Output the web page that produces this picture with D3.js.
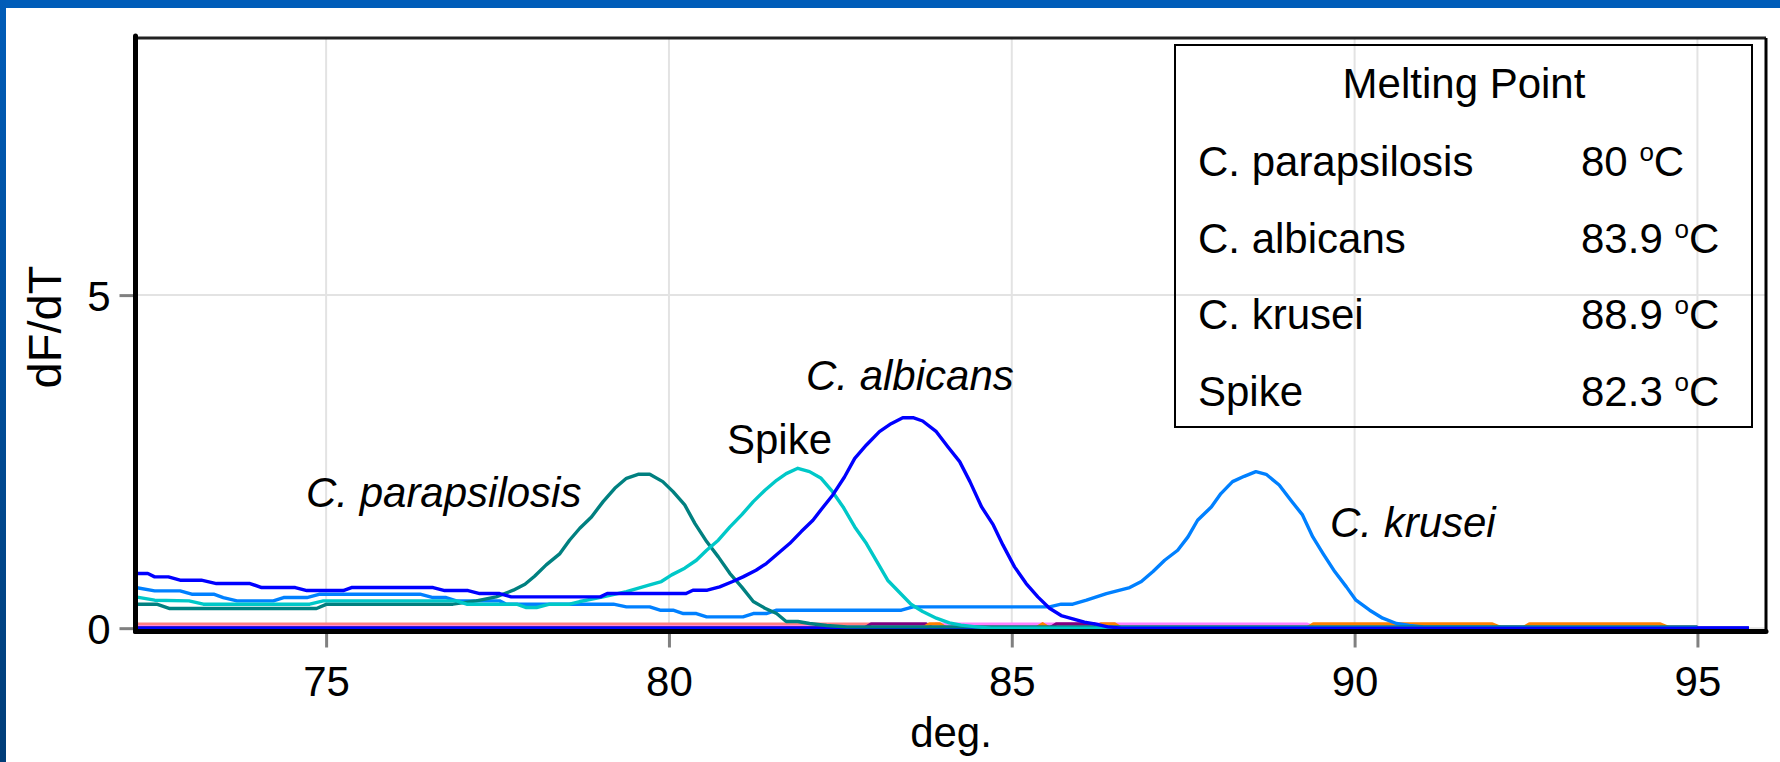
<!DOCTYPE html>
<html><head><meta charset="utf-8">
<script src="https://cdn.jsdelivr.net/npm/d3@7"></script>
<style>
html,body{margin:0;padding:0;background:#fff;}
svg{display:block;}
text{font-family:"Liberation Sans",Arial,Helvetica,sans-serif;fill:#000;}
</style></head>
<body>
<svg id="chart" width="1780" height="762"></svg>
<script>
// ---------------- data ----------------
const xTicks = [75, 80, 85, 90, 95];
const yTicks = [0, 5];
const xTitle = "deg.";
const yTitle = "dF/dT";

const albicansT = [72.22,72.40,72.50,72.70,72.87,73.18,73.40,73.89,74.06,74.55,74.72,75.25,75.37,76.56,76.73,77.07,77.24,77.53,77.70,79.00,79.10,80.25,80.35,80.56,80.74,80.93,81.08,81.27,81.42,81.59,81.76,81.93,82.10,82.25,82.39,82.56,82.71,82.88,83.07,83.24,83.41,83.56,83.70,83.90,84.07,84.24,84.39,84.56,84.73,84.87,85.04,85.21,85.38,85.55,85.72,85.89,86.06,86.23,86.40,86.60,95.75];
const albicansV = [0.82,0.82,0.77,0.77,0.72,0.72,0.67,0.67,0.61,0.61,0.565,0.565,0.61,0.61,0.565,0.565,0.52,0.52,0.47,0.47,0.52,0.52,0.57,0.57,0.62,0.70,0.77,0.87,0.97,1.12,1.27,1.45,1.62,1.82,2.00,2.27,2.55,2.75,2.95,3.07,3.16,3.16,3.11,2.95,2.72,2.50,2.20,1.82,1.55,1.25,0.92,0.67,0.47,0.30,0.19,0.14,0.09,0.06,0.02,0.00,0.00];

const spikeT = [72.22,72.50,73.00,73.21,74.76,74.96,76.90,77.05,77.78,77.92,78.07,78.26,78.55,78.70,79.04,79.38,79.72,79.89,80.04,80.23,80.40,80.55,80.72,80.89,81.06,81.23,81.40,81.57,81.71,81.88,82.05,82.22,82.37,82.54,82.71,82.88,83.05,83.19,83.36,83.53,83.70,83.90,84.09,84.26,84.48,84.70,95.00];
const spikeV = [0.47,0.42,0.41,0.36,0.36,0.41,0.41,0.36,0.36,0.31,0.31,0.36,0.36,0.40,0.47,0.55,0.65,0.70,0.80,0.90,1.02,1.17,1.32,1.52,1.70,1.90,2.07,2.22,2.32,2.40,2.35,2.25,2.07,1.82,1.52,1.27,0.97,0.72,0.54,0.36,0.25,0.15,0.08,0.045,0.02,0.00,0.00];

const parapT = [72.22,72.53,72.72,74.86,75.01,76.85,77.19,77.48,77.73,77.90,78.04,78.21,78.41,78.55,78.70,78.87,79.04,79.21,79.38,79.55,79.72,79.91,80.06,80.23,80.38,80.55,80.72,80.89,81.06,81.23,81.40,81.57,81.71,81.88,82.05,82.30,82.60,95.00];
const parapV = [0.36,0.36,0.295,0.295,0.36,0.36,0.41,0.47,0.57,0.66,0.78,0.95,1.12,1.32,1.50,1.67,1.90,2.10,2.25,2.31,2.31,2.20,2.05,1.85,1.57,1.30,1.07,0.82,0.62,0.40,0.30,0.22,0.10,0.10,0.07,0.04,0.02,0.02];

const kruseiT = [72.22,72.50,72.87,73.04,73.36,73.50,73.70,74.23,74.38,74.72,74.91,76.37,76.56,76.75,76.90,77.53,77.63,79.19,79.38,79.72,79.87,80.06,80.21,80.40,80.55,81.08,81.23,81.42,81.57,83.39,83.56,85.55,85.72,85.89,86.09,86.38,86.72,86.89,87.06,87.23,87.42,87.57,87.71,87.91,88.05,88.22,88.39,88.56,88.71,88.90,89.07,89.24,89.39,89.54,89.71,89.88,90.02,90.22,90.41,90.61,90.80,91.00,93.90,94.00,94.70,94.80];
const kruseiV = [0.61,0.56,0.56,0.51,0.51,0.46,0.41,0.41,0.46,0.46,0.51,0.51,0.46,0.46,0.41,0.41,0.36,0.36,0.32,0.32,0.27,0.27,0.22,0.22,0.17,0.17,0.22,0.22,0.27,0.27,0.32,0.32,0.36,0.36,0.42,0.52,0.61,0.70,0.85,1.02,1.17,1.37,1.62,1.82,2.02,2.20,2.28,2.35,2.31,2.15,1.92,1.70,1.37,1.12,0.85,0.62,0.42,0.27,0.15,0.07,0.04,0.02,0.00,-0.03,-0.03,0.00];

// near-zero control traces
const salmonT = [72.22,82.93,83.00,95.00];
const salmonV = [0.06,0.06,0.02,0.02];
const violetT = [72.22,83.80,83.90,89.30,89.40,95.00];
const violetV = [0.02,0.02,0.06,0.06,0.02,0.02];
const purpleT = [72.22,82.85,82.95,83.75,83.85,85.55,85.65,86.20,86.30,95.00];
const purpleV = [0.00,0.00,0.065,0.065,0.00,0.00,0.065,0.065,0.00,0.00];
const orangeT = [72.22,83.70,83.80,83.95,84.05,85.35,85.45,85.55,86.20,86.30,86.50,86.60,89.30,89.40,92.00,92.15,92.45,92.55,94.45,94.60,95.00];
const orangeV = [0.00,0.00,0.065,0.065,0.00,0.00,0.065,0.00,0.00,0.065,0.065,0.00,0.00,0.065,0.065,0.00,0.00,0.065,0.065,0.00,0.00];
const navyT = [72.22,91.60,91.70,93.30,93.40,95.75];
const navyV = [0.00,0.00,-0.035,-0.035,0.00,0.00];
const blueNtcT = [72.22,95.75];
const blueNtcV = [0.00,0.00];

const curveLabels = ["C. parapsilosis","Spike","C. albicans","C. krusei"];
const legendTitle = "Melting Point";
const legendNames = ["C. parapsilosis","C. albicans","C. krusei","Spike"];
const legendTm = ["80","83.9","88.9","82.3"];

// ---------------- drawing ----------------
const svg = d3.select("#chart");
const L = 135.5, R = 1766, T = 38, B = 631.5;
const x = d3.scaleLinear().domain([72.22, 96.0]).range([L, R]);
const y = d3.scaleLinear().domain([-0.05, 8.86]).range([B, T]);

// blue frame
const defs = svg.append("defs");
const g1 = defs.append("linearGradient").attr("id","lg").attr("x1",0).attr("y1",0).attr("x2",0).attr("y2",1);
g1.append("stop").attr("offset","0%").attr("stop-color","#005cb8");
g1.append("stop").attr("offset","100%").attr("stop-color","#003d78");
svg.append("rect").attr("x",0).attr("y",0).attr("width",1780).attr("height",8).attr("fill","#005db9");
svg.append("rect").attr("x",0).attr("y",0).attr("width",6).attr("height",762).attr("fill","url(#lg)");

defs.append("clipPath").attr("id","clip").append("rect")
  .attr("x",L).attr("y",T).attr("width",R-L).attr("height",B-T);

// grid
const grid = svg.append("g");
grid.selectAll("line.vx").data(xTicks).join("line")
  .attr("x1",d=>x(d)).attr("x2",d=>x(d)).attr("y1",T).attr("y2",B)
  .attr("stroke","#e3e3e3").attr("stroke-width",2);
grid.selectAll("line.hy").data(yTicks).join("line").attr("class","hy")
  .attr("x1",L).attr("x2",R).attr("y1",d=>y(d)).attr("y2",d=>y(d))
  .attr("stroke","#e3e3e3").attr("stroke-width",2);

// axes via d3 axis generators
const xAxis = d3.axisBottom(x).tickValues(xTicks).tickSize(16).tickPadding(16).tickFormat(d3.format("d"));
const gx = svg.append("g").attr("transform",`translate(0,${B})`).call(xAxis);
gx.select(".domain").remove();
gx.selectAll(".tick line").attr("stroke","#808080").attr("stroke-width",3);
gx.selectAll(".tick text").attr("font-size",42).attr("font-family",null).attr("dy",null).attr("y",64);

const yAxis = d3.axisLeft(y).tickValues(yTicks).tickSize(16).tickPadding(6).tickFormat(d3.format("d"));
const gy = svg.append("g").attr("transform",`translate(${L},0)`).call(yAxis);
gy.select(".domain").remove();
gy.selectAll(".tick line").attr("stroke","#808080").attr("stroke-width",3);
gy.selectAll(".tick text").attr("font-size",42).attr("font-family",null).attr("dy",null).attr("y",15).attr("x",-25);

// series
const line = d3.line().x(d=>x(d[0])).y(d=>y(d[1]));
const series = [
  {t:salmonT, v:salmonV, c:"#ff8080"},
  {t:violetT, v:violetV, c:"#ff80ff"},
  {t:purpleT, v:purpleV, c:"#800080"},
  {t:orangeT, v:orangeV, c:"#ff8000"},
  {t:navyT, v:navyV, c:"#0000b0"},
  {t:blueNtcT, v:blueNtcV, c:"#0000ff"},
  {t:kruseiT, v:kruseiV, c:"#0080ff"},
  {t:parapT, v:parapV, c:"#008080"},
  {t:spikeT, v:spikeV, c:"#00c8c8"},
  {t:albicansT, v:albicansV, c:"#0000ff"}
];
const gs = svg.append("g").attr("clip-path","url(#clip)");
gs.selectAll("path").data(series).join("path")
  .attr("d",s=>line(s.t.map((t,i)=>[t,s.v[i]])))
  .attr("fill","none").attr("stroke",s=>s.c).attr("stroke-width",3.4)
  .attr("stroke-linejoin","round");

// frame
svg.append("line").attr("x1",L).attr("x2",R).attr("y1",T).attr("y2",T).attr("stroke","#222").attr("stroke-width",3);
svg.append("line").attr("x1",R).attr("x2",R).attr("y1",T).attr("y2",B).attr("stroke","#000").attr("stroke-width",3);
svg.append("line").attr("x1",L).attr("x2",L).attr("y1",T-2).attr("y2",B).attr("stroke","#000").attr("stroke-width",5).attr("stroke-linecap","round");
svg.append("line").attr("x1",L).attr("x2",R).attr("y1",B).attr("y2",B).attr("stroke","#000").attr("stroke-width",5).attr("stroke-linecap","round");

// axis titles
svg.append("text").attr("x",951).attr("y",747).attr("text-anchor","middle").attr("font-size",42).text(xTitle);
svg.append("text").attr("transform","translate(61,327) rotate(-90)").attr("text-anchor","middle").attr("font-size",47).text(yTitle);

// curve labels
const lab = [
  {t:curveLabels[0], x:306, y:507, it:true},
  {t:curveLabels[1], x:727, y:454, it:false},
  {t:curveLabels[2], x:806, y:390, it:true},
  {t:curveLabels[3], x:1330, y:537, it:true}
];
svg.selectAll("text.cl").data(lab).join("text").attr("class","cl")
  .attr("x",d=>d.x).attr("y",d=>d.y).attr("font-size",42)
  .attr("font-style",d=>d.it?"italic":"normal").text(d=>d.t);

// legend box
const lg = svg.append("g");
lg.append("rect").attr("x",1175).attr("y",45).attr("width",577).attr("height",382)
  .attr("fill","none").attr("stroke","#000").attr("stroke-width",2);
lg.append("text").attr("x",1464).attr("y",98).attr("text-anchor","middle").attr("font-size",42).text(legendTitle);
const rows = lg.selectAll("g.row").data(legendNames).join("g").attr("class","row");
rows.append("text").attr("x",1198).attr("y",(d,i)=>176+i*76.5).attr("font-size",42).text(d=>d);
const vt = rows.append("text").attr("x",1581).attr("y",(d,i)=>176+i*76.5).attr("font-size",42);
vt.append("tspan").text((d,i)=>legendTm[i]+" ");
vt.append("tspan").attr("font-size",26).attr("dy",-15).text("o");
vt.append("tspan").attr("dy",15).text("C");
</script>
</body></html>
